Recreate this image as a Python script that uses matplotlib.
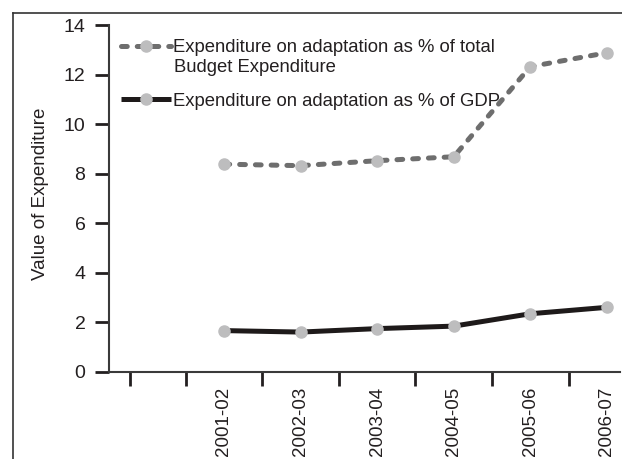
import matplotlib
matplotlib.use("Agg")
import matplotlib.pyplot as plt
from matplotlib.lines import Line2D
from matplotlib.ticker import FixedLocator, NullFormatter

plt.rcParams['font.family'] = ['Liberation Sans Narrow', 'Liberation Sans', 'DejaVu Sans']

years = ["2001-02", "2002-03", "2003-04", "2004-05", "2005-06", "2006-07"]
budget_pct = [8.38, 8.32, 8.52, 8.68, 12.32, 12.88]
gdp_pct = [1.66, 1.60, 1.74, 1.84, 2.34, 2.60]

label_budget_1 = "Expenditure on adaptation as % of total"
label_budget_2 = "Budget Expenditure"
label_gdp = "Expenditure on adaptation as % of GDP"
y_label = "Value of Expenditure"
y_ticks = [0, 2, 4, 6, 8, 10, 12, 14]

W, H = 622, 459
fig = plt.figure(figsize=(W / 100, H / 100), dpi=100)
ax = fig.add_axes([109 / W, 1 - 371.7 / H, (620 - 109) / W, (371.7 - 25) / H])

x = list(range(len(years)))
fs = 13.5
mcol = "#bdbdbe"
ln1, = ax.plot(x, budget_pct, color="#6e6e6e", lw=3.6, linestyle=(0, (1.15, 2.0)),
               dash_capstyle="round", marker="o", ms=8, mfc=mcol, mec=mcol, zorder=3)
ln2, = ax.plot(x, gdp_pct, color="#1e1a1a", lw=3.6, solid_capstyle="butt",
               marker="o", ms=8, mfc=mcol, mec=mcol, zorder=3)

ax.set_xlim(-1.5, 5.17)
ax.set_ylim(0, 14)
ax.set_yticks(y_ticks)
ax.set_yticklabels([str(v) for v in y_ticks], fontsize=14, color="#231f20")

# boundary ticks (major, no labels) and category labels (minor, no tick marks)
ax.xaxis.set_major_locator(FixedLocator([-1.23, -0.5, 0.5, 1.5, 2.5, 3.5, 4.5]))
ax.xaxis.set_major_formatter(NullFormatter())
ax.set_xticks(x, minor=True)
ax.set_xticklabels(years, minor=True, rotation=90, fontsize=fs, color="#231f20")
ax.tick_params(axis="x", which="major", length=10, width=2, color="#231f20", direction="out")
ax.tick_params(axis="x", which="minor", length=0, pad=11)
ax.tick_params(axis="y", length=10, width=2, color="#231f20", pad=7)

for s in ["top", "right"]:
    ax.spines[s].set_visible(False)
for s in ["left", "bottom"]:
    ax.spines[s].set_color("#3a3a3a")
    ax.spines[s].set_linewidth(1.5)

fig.text(41 / W, 1 - 194 / H, y_label, rotation=90, ha="center", va="center",
         fontsize=fs, color="#231f20")

leg = ax.legend([ln1, ln2], [label_budget_1, label_gdp], loc="upper left",
                bbox_to_anchor=(121 / W, 1 - 39 / H), bbox_transform=fig.transFigure,
                frameon=False, fontsize=13.3, handlelength=2.7, handletextpad=0.12,
                labelspacing=1.98, borderpad=0, borderaxespad=0, markerscale=1.0)
for t in leg.get_texts():
    t.set_color("#231f20")
fig.text(174 / W, 1 - 68 / H, label_budget_2, ha="left", va="center",
         fontsize=13.3, color="#231f20")

# outer frame (top and left edges)
fig.add_artist(Line2D([13 / W, 1], [1 - 13 / H, 1 - 13 / H], transform=fig.transFigure,
                      color="#333333", lw=1.2))
fig.add_artist(Line2D([13 / W, 13 / W], [1 - 13 / H, 0], transform=fig.transFigure,
                      color="#333333", lw=1.2))

fig.savefig("out.png", dpi=100)
